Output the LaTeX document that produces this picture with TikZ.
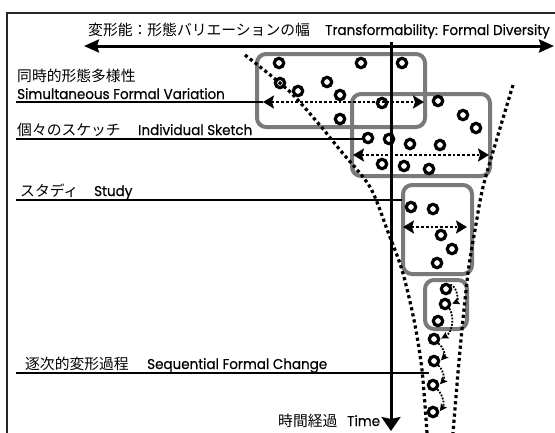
\documentclass[tikz,border=0pt]{standalone}
\usepackage{fontspec}
\setmainfont{Poppins}[FakeStretch=0.95,FakeBold=0.4]
\newfontfamily\jp{Noto Sans CJK JP}
\usetikzlibrary{arrows.meta}
\begin{document}
\begin{tikzpicture}[x=1pt,y=-1pt,
  circ/.style={circle,draw,line width=3.2pt,minimum size=9.4pt,inner sep=0pt},
  graybox/.style={draw=black!52,line width=4pt,rounded corners=9pt},
  funnel/.style={line width=3.2pt,dash pattern=on 3.2pt off 3pt},
  dotarr/.style={line width=2.8pt,dash pattern=on 2.8pt off 2pt,{Stealth[length=11pt,width=13pt,inset=2pt]}-{Stealth[length=11pt,width=13pt,inset=2pt]}},
  seqarr/.style={line width=1.8pt,dash pattern=on 1.8pt off 1.4pt,-{Stealth[length=7pt,width=7pt,inset=1pt]},shorten >=1pt},
  lab/.style={line width=1.3pt},
  en/.style={anchor=base west,inner sep=0pt,font=\fontsize{14.2}{16}\selectfont},
  ja/.style={anchor=base west,inner sep=0pt,font=\jp\fontsize{14.8}{16}\selectfont},
  bigarr/.style={line width=3pt}
]
\useasboundingbox (0,0) rectangle (555,432);
\draw[line width=2pt,black!85] (7,433) -- (7,13) -- (556,13);

% gray boxes
\draw[graybox] (257,54) rectangle (425,127);
\draw[graybox] (352,94) rectangle (490,176);
\draw[graybox] (403,185) rectangle (472,274);
\draw[graybox] (425,280) rectangle (467,329);

% title
\node[ja] (t1) at (88,35) {変形能：形態バリエーションの幅};
\node[en] (t2) at (325,35) {Transformability: Formal Diversity};
\coordinate (ta1) at (84,46);
\coordinate (ta2) at (554,46);
\draw[bigarr,{Stealth[length=15pt,width=13pt,inset=2pt]}-{Stealth[length=15pt,width=13pt,inset=2pt]}] (ta1) -- (ta2);

% time axis
\coordinate (v1) at (391,42);
\coordinate (v2) at (391,431);
\draw[bigarr,-{Stealth[length=14pt,width=19pt,inset=2pt]}] (v1) -- (v2);
\node[ja] (tm1) at (278,426) {時間経過};
\node[en] (tm2) at (347,426) {Time};

% funnel boundaries
\draw[funnel] plot[smooth] coordinates {(245,55) (288,90) (318,123) (340,150) (370,187) (388,232) (402,270) (414,320) (422,370) (427,433)};
\draw[funnel] plot[smooth] coordinates {(513,85) (498,135) (483,187) (475,230) (468,273) (460,350) (453,433)};

% circles
\foreach \n/\x/\y in {1/279/63,2/361/63,3/402/63,4/280/83,5/298/91,6/327/82,7/340/95,8/382/103,9/438/101,10/340/119,11/463/115,12/476/128,13/368/138,14/389/139,15/410/144,16/440/145,17/382/164,18/404/166,19/429/169,20/411/207,21/433/209,22/441/235,23/452/249,24/437/263,25/446/289,26/445/304,27/438/321,28/434/339,29/434/361,30/433/385,31/433/412}
  \node[circ] (c\n) at (\x,\y) {};

% dotted double arrows
\coordinate (a1l) at (263,102); \coordinate (a1r) at (424,102);
\coordinate (a2l) at (353,155); \coordinate (a2r) at (489,155);
\coordinate (a3l) at (403,227); \coordinate (a3r) at (467,227);
\draw[dotarr] (a1l) -- (a1r);
\draw[dotarr] (a2l) -- (a2r);
\draw[dotarr] (a3l) -- (a3r);

% sequential arrows
\draw[seqarr] (c25.north east) to[bend left=70] (c26.east);
\draw[seqarr] (c26.south east) to[bend left=45] (c28.east);
\draw[seqarr] (c28.south east) to[bend left=50] (c29.east);
\draw[seqarr] (c29.south east) to[bend left=45] (c30.east);
\draw[seqarr] (c30.south east) to[bend left=40] (c31.east);

% labels
\node[ja] (l1a) at (17,81) {同時的形態多様性};
\node[en] (l1b) at (17,99) {Simultaneous Formal Variation};
\coordinate (s1) at (16,102);
\draw[lab] (s1) -- (a1l);

\node[ja] (l2a) at (17,135) {個々のスケッチ};
\node[en] (l2b) at (138,135) {Individual Sketch};
\coordinate (s2) at (16,139);
\draw[lab] (s2) -- (c13.west |- s2);

\node[ja] (l3a) at (20,196) {スタディ};
\node[en] (l3b) at (94,196) {Study};
\coordinate (s3) at (16,200);
\coordinate (e3) at (402,200);
\draw[lab] (s3) -- (e3);

\node[ja] (l4a) at (25,369) {逐次的変形過程};
\node[en] (l4b) at (147,369) {Sequential Formal Change};
\coordinate (s4) at (16,373);
\coordinate (e4) at (429,373);
\draw[lab] (s4) -- (e4);
\end{tikzpicture}
\end{document}
